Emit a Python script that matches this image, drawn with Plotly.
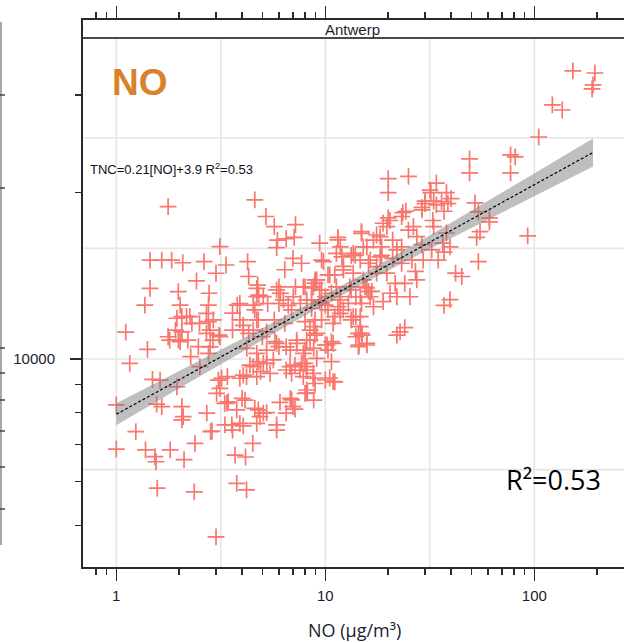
import math
import plotly.graph_objects as go

# ---------------- data ----------------
# NO (ug/m3) and TNC values, grouped by region of the scatter
no_hi = [153, 195, 191, 189, 122, 136, 105, 77, 81, 77,
         49, 49, 93, 55, 53, 61, 37, 54, 42, 45,
         37, 39.5, 22, 24, 15.8, 14.5, 15, 10.9, 10.5, 8.2]
tnc_hi = [33200, 32900, 31300, 30800, 28800, 28200, 25200, 23400, 23200, 21700,
          23000, 21700, 16700, 17000, 16600, 17700, 15600, 15000, 14300, 14100,
          12500, 12800, 11050, 11400, 10600, 10600, 11050, 9100, 9240, 8680]

no_ur = [20, 20, 25, 34, 32, 38, 40, 30, 33, 29,
         38.6, 20, 23.5, 52, 54, 61, 36, 34, 30, 32.7,
         37, 29, 26.4, 24.3, 23.2, 20.4, 18.9, 14.9, 17.6, 21,
         25, 27.4, 33, 38, 36.5, 32.3, 29, 23.2, 22, 18.6,
         17, 15.2, 13.9, 14.7, 16.4, 18.6, 21, 23.2, 26, 29.4,
         34.7, 39.5, 19.7, 27, 27.4, 21.6, 24, 20.4, 25.4, 18.9,
         15.5, 16.1, 14.7, 16.4, 15.2, 13.6, 13.1, 17.6, 31.7]
tnc_ur = [21200, 20000, 21400, 20800, 20000, 20000, 19500, 19300, 19300, 18800,
          19100, 18000, 18400, 19150, 18450, 18000, 19250, 19000, 19100, 17800,
          18500, 18600, 17350, 18500, 18100, 17800, 17600, 17000, 16760, 16400,
          17100, 16640, 17350, 16900, 16200, 15750, 16100, 15950, 15750, 15950,
          16400, 15950, 15400, 15100, 15100, 15400, 15200, 14900, 15100, 15100,
          15100, 15950, 14300, 14400, 13900, 13700, 13700, 13150, 12960, 12700,
          13500, 13250, 12960, 12960, 13900, 14300, 13500, 14300, 20200]

no_m1 = [4.6, 5.2, 5.7, 7.2, 7.1, 6.5, 5.9, 5.85, 9.4, 11.5,
         11.8, 12, 13.3, 9.6, 12.2, 4.25, 4.3, 7.0, 7.7, 6.4,
         4.75, 4.8, 6.0, 6.1, 7.2, 8.0, 10.3, 11.1, 3.9, 5.3,
         6.0, 6.65, 7.6]
tnc_m1 = [19400, 18100, 17350, 17500, 16600, 16500, 16400, 15900, 16200, 16600,
          15950, 15300, 15400, 15100, 14700, 15000, 14100, 15200, 14900, 14500,
          13600, 13050, 13500, 13150, 13500, 13500, 14200, 14200, 12600, 12600,
          12600, 12500, 12600]

no_m2 = [11.5, 14.9, 18.3, 19.7, 11.3, 9.8, 13.6, 15.8, 18.3, 17.6,
         16.1, 12.2, 10.5, 9.1, 8.76, 9.4, 11.3, 15.8, 16.7, 22,
         11.8, 14, 10, 8.15, 12.2, 13.6, 14.7, 14.7, 14.4, 10.9,
         10.9, 10.2, 9.1, 8.45, 8.0, 8.0, 8.76, 7.85, 8.93]
tnc_m2 = [16420, 16870, 16640, 17350, 15530, 15000, 15530, 15950, 15300, 14690,
          14900, 14490, 14190, 13900, 13500, 13330, 13500, 13440, 13250, 12960,
          12790, 12960, 12520, 12790, 12270, 11930, 11930, 11440, 11130, 11600,
          10670, 10600, 11130, 10820, 10380, 9820, 9420, 9290, 9030]

no_m3 = [8.93, 8.6, 9.6, 10, 9.4, 10.7, 11.8, 13.3, 14.9, 17,
         14, 13.3, 14.9, 14, 15.8, 14.4, 22.8]
tnc_m3 = [13900, 13440, 13330, 12960, 12700, 13150, 12960, 13330, 12610, 12430,
          11930, 11770, 11130, 10970, 10670, 10530, 11200]

no_lo1 = [3.6, 4.6, 6.9, 8.6, 9.6, 10.3, 11.5, 12.9,
          4.05, 4.78, 5.7, 6.4, 8.0, 8.8, 9.6, 11.1, 11.8,
          3.6, 4.3, 5.0, 5.74, 6.0, 6.8, 7.3, 8.15, 8.9, 10, 10.7, 10.3, 8.8, 9.1, 10.7,
          3.4, 3.9, 4.2, 4.36, 4.78, 4.9, 5.25, 5.44, 6.5, 6.9, 7.16, 7.7, 8.15, 8.76, 10, 11.1,
          3.3, 4.0, 4.78, 5.05, 6.07, 6.9, 7.16, 8.15,
          3.31, 3.57, 4.05, 5.85, 4.5, 3.7, 4.15]
tnc_lo1 = [12100, 12270, 12270, 12350, 12610, 12270, 12430, 12610,
           11500, 11770, 11770, 11600, 11680, 11440, 11770, 11930, 12090,
           11280, 11130, 10970, 10750, 10530, 10380, 10670, 10820, 11050, 10600, 10750, 10380, 10450, 10030, 9890,
           9290, 9230, 9290, 9750, 9890, 9485, 9820, 9420, 9553, 9420, 9750, 9820, 9553, 9230, 9163, 9090,
           8316, 8490, 8089, 7980, 8350, 8432, 8115, 8790,
           7600, 7600, 7570, 7600, 7040, 6700, 6650]

no_lo2 = [1.95, 2.17, 2.3, 2.5, 2.76, 2.7, 2.06, 1.98, 2.2, 1.8,
          2.7, 2.9, 3.1, 2.47]
tnc_lo2 = [11850, 11930, 11600, 11600, 11680, 12090, 11200, 10820, 10820, 10820,
           11130, 10820, 11050, 10530]

no_lo3 = [1.0, 1.38, 1.53, 1.55, 1.81, 2.11, 2.38, 2.83, 3.6, 1.24,
          1.57, 2.36, 3.0, 3.77, 4.2, 5.85]
tnc_lo3 = [6870, 6850, 6660, 6520, 6850, 6580, 7040, 7390, 7440, 7390,
           5840, 5750, 4770, 5960, 5800, 7440]

no_lo4 = [1.0, 1.65, 1.56, 2.06, 2.09, 2.06, 2.71, 2.87, 3.43, 4.13,
          3.77, 4.6, 4.87, 5.24, 6.8, 7.0, 6.5, 8.0, 8.8, 3.9,
          4.7]
tnc_lo4 = [8260, 8200, 8290, 8200, 7870, 7760, 7980, 7410, 8370, 8430,
           8090, 8145, 7870, 8000, 8490, 8200, 7980, 8670, 8430, 7650,
           7650]

no_md = [1.16, 1.11, 1.41, 1.49, 1.62, 2.27, 2.51, 2.81, 2.76, 1.95,
         3.08, 3.13, 3.02, 3.38, 3.19, 4.05, 4.21, 4.7, 5.24, 5.85,
         6.5, 7.3, 7.85, 8.45, 8.93, 4.52, 5.05, 5.64, 4.7, 6.78,
         7.57, 8.15]
tnc_md = [9820, 11180, 10410, 9190, 9160, 10100, 9690, 10520, 10240, 8910,
          9160, 8850, 8670, 8320, 9230, 9350, 10450, 10240, 10380, 10670,
          10520, 10820, 10240, 11280, 11770, 9690, 9820, 9960, 9290, 9690,
          9550, 9690]

no_up = [3.9, 4.05, 4.7, 4.52, 5.24, 2.91, 2.81, 3.13, 1.92, 1.77,
         2.02, 2.25, 2.06, 1.45, 1.37, 1.98, 2.02, 2.78, 2.76, 4.7,
         4.7, 5.05, 5.85, 3.79, 4.52, 1.45, 1.65, 1.84, 2.08, 2.63,
         3.35, 3.0, 2.42, 3.13, 1.77, 8.6, 8.93, 7.85, 6.3, 7.03]
tnc_up = [11770, 11280, 11770, 11280, 11200, 11770, 11280, 10970, 11280, 10970,
          10750, 11930, 11930, 13420, 12520, 13240, 12520, 13150, 12520, 13420,
          12960, 12960, 13330, 12520, 12520, 15100, 15100, 15100, 14930, 15000,
          14790, 14290, 13840, 15960, 18860, 12790, 13710, 13500, 12790, 12960]

# fitted line and its confidence band
fit_no = [1, 191]
fit_tnc = [7943, 23630]
band_no = [1, 2, 4, 8, 15, 30, 60, 120, 191]
band_lo = [7589, 8853, 10309, 11980, 13652, 15658, 17862, 20370, 22295]
band_hi = [8316, 9504, 10884, 12487, 14230, 16536, 19335, 22606, 25049]

# axis ticks
x_major = [1, 10, 100]
x_major_text = ["1", "10", "100"]
x_minor = [0.8, 0.9, 2, 3, 4, 5, 6, 7, 8, 9, 20, 30, 40, 50, 60, 70, 80, 90, 200]
y_major = [10000]
y_major_text = ["10000"]
y_minor = [5000, 6000, 7000, 8000, 9000, 20000, 30000]
x_grid = [1, 10 ** 0.5, 10, 10 ** 1.5, 100]
y_grid = [10 ** 3.8, 10 ** 4.0, 10 ** 4.2, 10 ** 4.4, 10 ** 4.6]

# ---------------- layout geometry ----------------
W, H = 624, 643
L, R, T, B = 83, 0, 20, 76
X_RANGE = [-0.1593, 2.4292]
Y_RANGE = [3.6239, 4.6130]


def xp(px):
    return (px - L) / (W - L - R)


def yp(py):
    return (H - B - py) / (H - T - B)


def lx(v):
    return (math.log10(v) - X_RANGE[0]) / (X_RANGE[1] - X_RANGE[0])


def ly(v):
    return (math.log10(v) - Y_RANGE[0]) / (Y_RANGE[1] - Y_RANGE[0])


no_all = no_hi + no_ur + no_m1 + no_m2 + no_m3 + no_lo1 + no_lo2 + no_lo3 + no_lo4 + no_md + no_up
tnc_all = tnc_hi + tnc_ur + tnc_m1 + tnc_m2 + tnc_m3 + tnc_lo1 + tnc_lo2 + tnc_lo3 + tnc_lo4 + tnc_md + tnc_up

PT = "#F8766D"
INK = "#1c1c30"
AX = "#2a2a2a"

fig = go.Figure()
fig.add_trace(go.Scatter(
    x=no_all, y=tnc_all, mode="markers",
    marker=dict(symbol="cross-thin", size=12, color=PT, line=dict(width=1.7, color=PT)),
    hoverinfo="skip", showlegend=False))
fig.add_trace(go.Scatter(
    x=band_no + band_no[::-1], y=band_hi + band_lo[::-1],
    mode="lines", fill="toself", fillcolor="rgba(128,128,128,0.5)",
    line=dict(width=0), hoverinfo="skip", showlegend=False))
fig.add_trace(go.Scatter(
    x=fit_no, y=fit_tnc, mode="lines",
    line=dict(color="black", width=1.2, dash="3px,2px"),
    hoverinfo="skip", showlegend=False))

shapes = []
for v in x_grid:
    shapes.append(dict(type="line", xref="paper", yref="paper", x0=lx(v), x1=lx(v), y0=0, y1=1,
                       layer="below", line=dict(color="#E6E6E6", width=1.6)))
for v in y_grid:
    shapes.append(dict(type="line", xref="paper", yref="paper", x0=0, x1=1, y0=ly(v), y1=ly(v),
                       layer="below", line=dict(color="#E6E6E6", width=1.6)))
# strip
shapes.append(dict(type="rect", xref="paper", yref="paper", x0=xp(84.5), x1=1.0, y0=yp(38), y1=yp(21.2),
                   layer="above", fillcolor="white", line=dict(width=0)))
shapes.append(dict(type="line", xref="paper", yref="paper", x0=0, x1=1, y0=yp(38), y1=yp(38),
                   layer="above", line=dict(color="#4a4a4a", width=2)))
# fragment of the neighbouring panel's axis at the far left
shapes.append(dict(type="line", xref="paper", yref="paper", x0=xp(1), x1=xp(1), y0=yp(22), y1=yp(545),
                   layer="above", line=dict(color="#8a8a8a", width=1.5)))
for py in [95, 188, 348, 373, 400, 431, 467, 509]:
    shapes.append(dict(type="line", xref="paper", yref="paper", x0=xp(0), x1=xp(5), y0=yp(py), y1=yp(py),
                       layer="above", line=dict(color="#444", width=1.5)))

annotations = [
    dict(text="Antwerp", xref="paper", yref="paper", x=xp(352), y=yp(29), showarrow=False,
         xanchor="center", yanchor="middle", font=dict(family="Liberation Sans, Arial", size=15, color=INK)),
    dict(text="<b>NO</b>", xref="paper", yref="paper", x=xp(139.5), y=yp(82), showarrow=False,
         xanchor="center", yanchor="middle", font=dict(family="Liberation Sans, Arial", size=37, color="#D9822B")),
    dict(text="TNC=0.21[NO]+3.9 R<sup>2</sup>=0.53", xref="paper", yref="paper", x=xp(88), y=yp(168.5),
         showarrow=False, xanchor="left", yanchor="middle",
         font=dict(family="Liberation Sans, Arial", size=13, color="#101020")),
    dict(text="R²=0.53", xref="paper", yref="paper", x=xp(553), y=yp(479), showarrow=False,
         xanchor="center", yanchor="middle", font=dict(family="Open Sans", size=27, color="black")),
    dict(text="NO (µg/m³)", xref="paper", yref="paper", x=xp(354), y=yp(630), showarrow=False,
         xanchor="center", yanchor="middle", font=dict(family="Open Sans", size=18, color=INK)),
]

tickfont = dict(family="Liberation Sans, Arial", size=15, color=INK)
fig.update_layout(
    width=W, height=H, margin=dict(l=L, r=R, t=T, b=B),
    paper_bgcolor="white", plot_bgcolor="white",
    shapes=shapes, annotations=annotations, showlegend=False,
    xaxis=dict(type="log", range=X_RANGE, tickmode="array", tickvals=x_major, ticktext=x_major_text,
               ticks="outside", ticklen=12, tickwidth=1.5, tickcolor=AX,
               showline=True, linewidth=2, linecolor=AX, mirror="ticks",
               showgrid=False, zeroline=False, automargin=False, ticklabelstandoff=2,
               tickfont=tickfont,
               minor=dict(tickmode="array", tickvals=x_minor, ticks="outside", ticklen=6,
                          tickwidth=1.5, tickcolor=AX, showgrid=False)),
    yaxis=dict(type="log", range=Y_RANGE, tickmode="array", tickvals=y_major, ticktext=y_major_text,
               ticks="outside", ticklen=11, tickwidth=1.5, tickcolor=AX,
               showline=True, linewidth=2, linecolor=AX, mirror=False,
               showgrid=False, zeroline=False, automargin=False, ticklabelstandoff=12,
               tickfont=tickfont,
               minor=dict(tickmode="array", tickvals=y_minor, ticks="outside", ticklen=6,
                          tickwidth=1.5, tickcolor=AX, showgrid=False)),
)

fig.write_html("out.html",
               config={"displayModeBar": False, "staticPlot": True},
               post_script="document.body.style.margin='0px';document.body.style.overflow='hidden';")
